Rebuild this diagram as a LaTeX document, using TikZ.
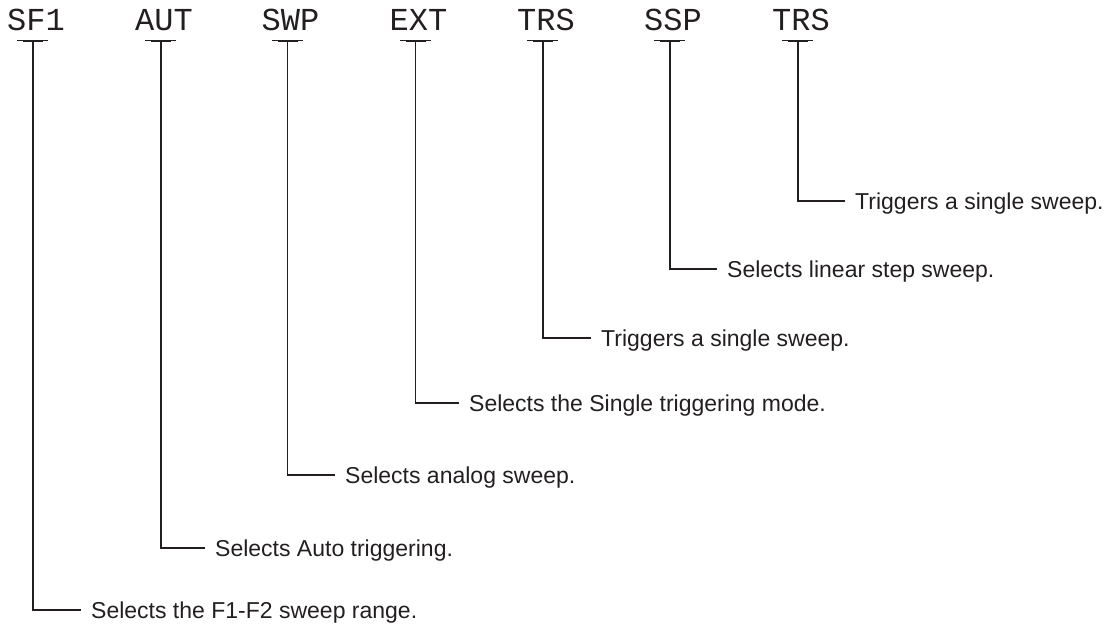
\documentclass[tikz,border=0pt]{standalone}
\usepackage{fontspec}
\setmainfont{Liberation Sans}
\newfontfamily\monofont{Liberation Mono}
\definecolor{ink}{HTML}{231F20}
\begin{document}
\begin{tikzpicture}[x=1pt,y=-1pt,
  keylabel/.style={font=\monofont\fontsize{32}{34}\selectfont, text=ink, inner sep=0pt, anchor=base},
  desc/.style={font=\fontsize{23}{26}\selectfont, text=ink, anchor=west, inner xsep=10pt, inner ysep=0pt, text height=16.5pt, text depth=0pt},
  leader/.style={draw=ink, line width=1.2pt},
  tickthin/.style={draw=ink, line width=1pt},
  tickthick/.style={draw=ink, line width=2pt}]
\useasboundingbox (0,0) rectangle (1116,631);
\foreach \n/\lx/\ry/\hx/\lab/\txt in {
  1/33/610/81/SF1/{Selects the F1-F2 sweep range.},
  2/161/548/205/AUT/{Selects Auto triggering.},
  3/287.5/475/335/SWP/{Selects analog sweep.},
  4/415.5/403/459/EXT/{Selects the Single triggering mode.},
  5/543/338/591/TRS/{Triggers a single sweep.},
  6/670/269/717/SSP/{Selects linear step sweep.},
  7/798/201/845/TRS/{Triggers a single sweep.}}{
  \node[keylabel] (k\n) at (\lx+3,31) {\lab};
  \coordinate (t\n) at (\lx,41);
  \draw[tickthin] ([xshift=-16pt]t\n) -- ([xshift=15pt]t\n);
  \draw[tickthick] ([xshift=-10pt]t\n) -- ([xshift=10pt]t\n);
  \node[desc] (d\n) at (\hx,\ry) {\txt};
  \draw[leader] (t\n) |- (d\n.west);
}
\end{tikzpicture}
\end{document}
